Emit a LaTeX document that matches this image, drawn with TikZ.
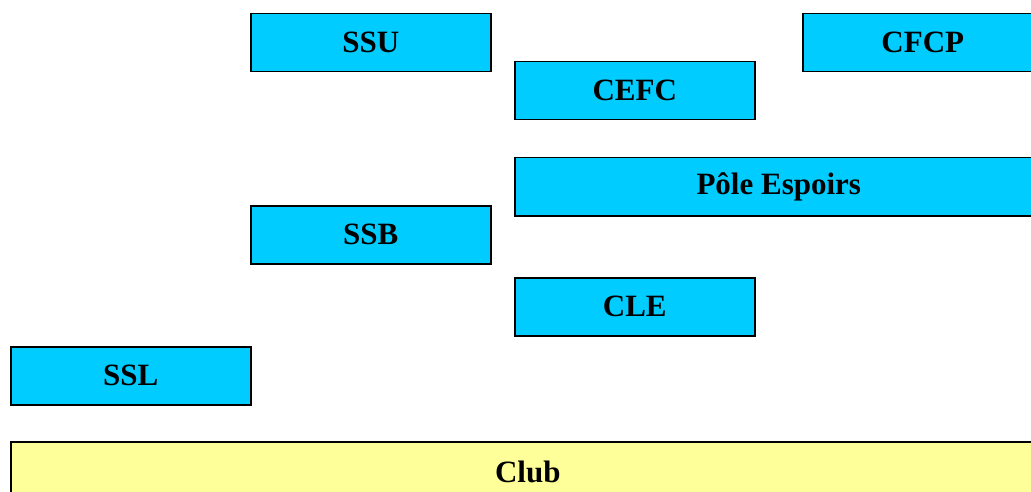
\documentclass[tikz,border=0pt]{standalone}
\usepackage{fontspec}
\setmainfont{Liberation Serif}
\begin{document}
\begin{tikzpicture}[x=1pt,y=-1pt,
  box/.style={draw=black,line width=1.5pt,fill=cyanbox,inner sep=0pt,anchor=north west,
    font=\fontsize{31}{31}\selectfont\bfseries},
  clubbox/.style={box,fill=yellowbox}]
\definecolor{cyanbox}{HTML}{00CCFF}
\definecolor{yellowbox}{HTML}{FFFF99}
\useasboundingbox (0,0) rectangle (1031,492);
\clip (0,0) rectangle (1031,492);
\node[box,minimum width=240pt,minimum height=58pt] (ssu) at (250,13) {SSU};
\node[box,minimum width=240pt,minimum height=58pt] (cfcp) at (802,13) {CFCP};
\node[box,minimum width=240pt,minimum height=58pt] (cefc) at (514,61) {CEFC};
\node[box,minimum width=528pt,minimum height=58pt] (pole) at (514,157) {Pôle Espoirs};
\node[box,minimum width=240pt,minimum height=58pt] (ssb) at (250,205) {SSB};
\node[box,minimum width=240pt,minimum height=58pt] (cle) at (514,277) {CLE};
\node[box,minimum width=240pt,minimum height=58pt] (ssl) at (10,346) {SSL};
\node[clubbox,minimum width=1034pt,minimum height=60pt] (club) at (10,441) {Club};
\end{tikzpicture}
\end{document}
